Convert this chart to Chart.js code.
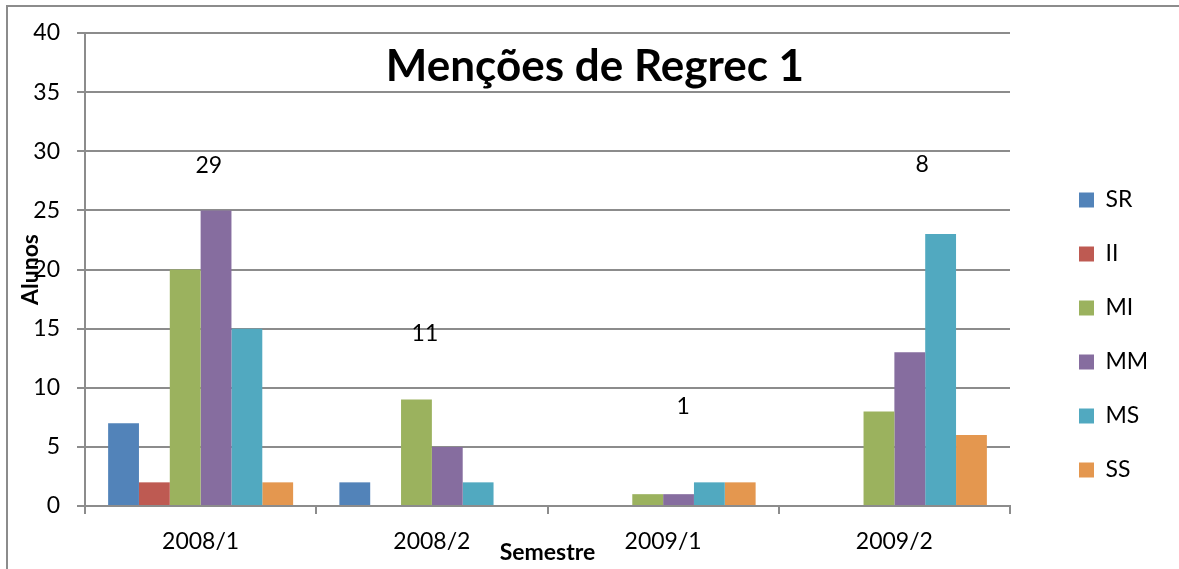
<!DOCTYPE html>
<html>
<head>
<meta charset="utf-8">
<script src="https://cdn.jsdelivr.net/npm/chart.js@4"></script>
<style>
  html, body { margin: 0; padding: 0; background: #fff; }
  #wrap { width: 1179px; height: 569px; }
</style>
</head>
<body>
<div id="wrap"><canvas id="c" width="1179" height="569"></canvas></div>
<script>
// ---- data ----
const categories = ['2008/1', '2008/2', '2009/1', '2009/2'];
const seriesNames = ['SR', 'II', 'MI', 'MM', 'MS', 'SS'];
const SR = [7, 2, 0, 0];
const II = [2, 0, 0, 0];
const MI = [20, 9, 1, 8];
const MM = [25, 5, 1, 13];
const MS = [15, 2, 2, 23];
const SS = [2, 0, 2, 6];
const yTicks = [0, 5, 10, 15, 20, 25, 30, 35, 40];
// free text notes written over the groups (value position and offset within category)
const noteLabels = ['29', '11', '1', '8'];
const noteValues = [28.8, 14.6, 8.45, 28.9];
const noteShift = [0.035, -0.03, 0.087, 0.12];
const chartTitle = 'Menções de Regrec 1';

const colors = ['#5283B9', '#BE5A52', '#9BB25E', '#866D9F', '#51A9C0', '#E4974F'];
const seriesValues = [SR, II, MI, MM, MS, SS];

const FONT = 'Lato, "Open Sans", sans-serif';

const decor = {
  id: 'decor',
  afterInit(chart) {
    const leg = chart.legend;
    if (leg) {
      const orig = leg.fit.bind(leg);
      leg.fit = function () { orig(); this.width = 169; };
    }
  },
  afterLayout(chart) {
    const leg = chart.legend;
    leg.left += 38; leg.right += 38;
    leg.top += 34; leg.bottom += 34;
  },
  beforeDraw(chart) {
    const ctx = chart.ctx;
    ctx.save();
    ctx.strokeStyle = '#8c8c8c';
    ctx.lineWidth = 2;
    ctx.beginPath();
    ctx.moveTo(7, chart.height + 2);
    ctx.lineTo(7, 6);
    ctx.lineTo(chart.width + 2, 6);
    ctx.stroke();
    ctx.restore();
  },
  afterDatasetsDraw(chart) {
    const ctx = chart.ctx;
    const xs = chart.scales.x, ys = chart.scales.y;
    const catW = (xs.right - xs.left) / categories.length;
    ctx.save();
    ctx.fillStyle = '#000';
    ctx.font = '23px ' + FONT;
    ctx.textAlign = 'center';
    ctx.textBaseline = 'middle';
    noteLabels.forEach((t, i) => {
      ctx.fillText(t, xs.getPixelForValue(i) + noteShift[i] * catW, ys.getPixelForValue(noteValues[i]));
    });
    ctx.font = 'bold 44px ' + FONT;
    ctx.textBaseline = 'alphabetic';
    ctx.fillText(chartTitle, 595, 81);
    ctx.restore();
  }
};

new Chart(document.getElementById('c'), {
  type: 'bar',
  data: {
    labels: categories,
    datasets: seriesNames.map((n, i) => ({
      label: n,
      data: seriesValues[i],
      backgroundColor: colors[i],
      borderColor: colors[i],
      borderWidth: 0,
      categoryPercentage: 0.8,
      barPercentage: 1.0
    }))
  },
  options: {
    responsive: false,
    animation: false,
    devicePixelRatio: 1,
    layout: { padding: { left: 0, right: 0, top: 33, bottom: 0 } },
    plugins: {
      title: { display: false },
      tooltip: { enabled: false },
      legend: {
        position: 'right',
        labels: {
          boxWidth: 15,
          boxHeight: 15,
          padding: 31,
          color: '#000',
          font: { family: FONT, size: 23 }
        }
      }
    },
    scales: {
      x: {
        grid: { drawOnChartArea: false, drawTicks: true, tickLength: 8, color: '#8c8c8c', lineWidth: 2, offset: true },
        border: { color: '#8c8c8c', width: 2 },
        ticks: { color: '#000', font: { family: FONT, size: 23 }, padding: 14 },
        title: { display: true, text: 'Semestre', color: '#000', font: { family: FONT, size: 23, weight: 'bold' }, padding: { top: 0, bottom: 3 } },
        afterFit(s) { s.height = 63; }
      },
      y: {
        min: 0, max: 40,
        afterBuildTicks(s) { s.ticks = yTicks.map(v => ({ value: v })); },
        grid: { color: '#8c8c8c', lineWidth: 2, tickLength: 8, drawTicks: true },
        border: { color: '#8c8c8c', width: 2 },
        ticks: { color: '#000', font: { family: FONT, size: 23 }, padding: 17 },
        title: { display: true, text: 'Alunos', color: '#000', font: { family: FONT, size: 23, weight: 'bold' }, padding: { top: 17, bottom: 0 } },
        afterFit(s) { s.width = 85; }
      }
    }
  },
  plugins: [decor]
});
</script>
</body>
</html>
